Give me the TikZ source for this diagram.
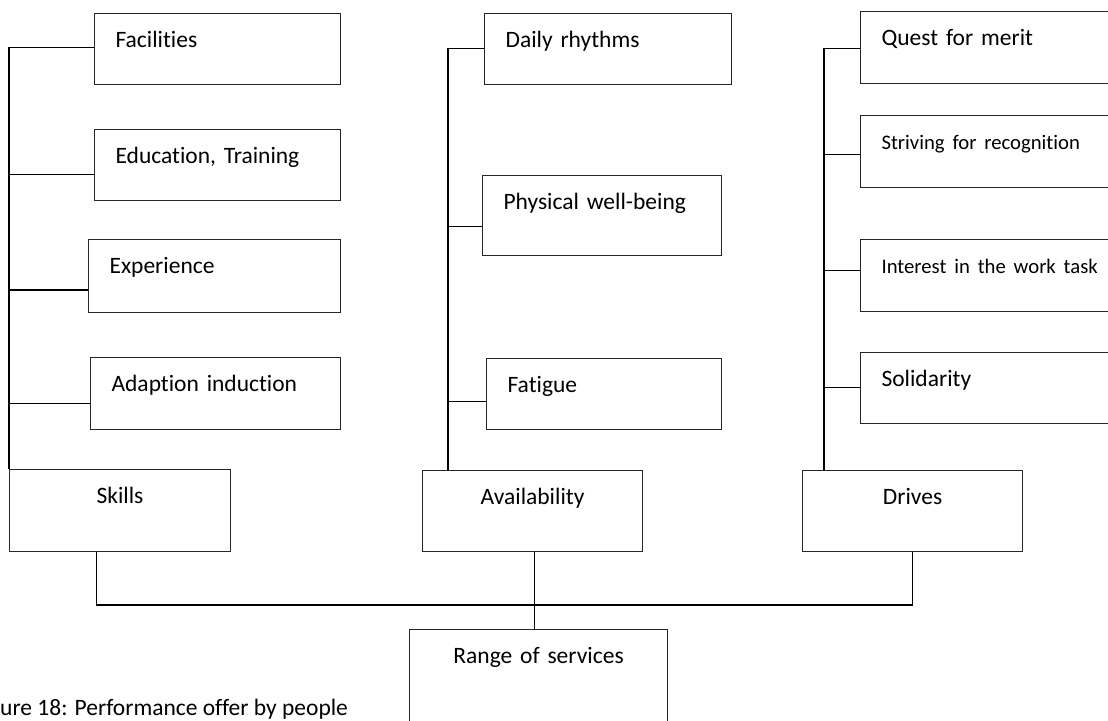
\documentclass[tikz,border=0pt]{standalone}
\usepackage{fontspec}
\setmainfont{Carlito}[Ligatures=NoCommon]
\usepackage{tikz}
\newcommand\smalltxt{\fontsize{20.7}{25}\selectfont}
\tikzset{
  item/.style={draw=black!85, line width=1.1pt, anchor=north west, inner xsep=21pt, inner ysep=0pt,
    text height=34pt, align=left, font=\fontsize{23.5}{28}\selectfont},
  head/.style={item, align=center},
  link/.style={line width=1.8pt}
}
\begin{document}
\begin{tikzpicture}[x=1pt,y=-1pt]
                \clip (0,0) rectangle (1108,720);
                \foreach \n/\x/\y/\w/\h/\t in {fac/94/13/204/37/Facilities, edu/94/129/204/37/{Education, Training},
                    exp/88/239/210/39/Experience, adap/90/357/208/38/Adaption induction,
                    daily/484/13/205/37/Daily rhythms, phys/482/175/197/46/Physical well-being, fat/486/358/193/37/Fatigue,
                    quest/860/11/240/38/Quest for merit, striv/860/115/240/38/{\smalltxt Striving for recognition},
                    inter/860/239/240/38/{\smalltxt Interest in the work task}, solid/860/352/240/37/Solidarity}
                {
                \node[item, text width=\w pt, text depth=\h pt] (\n) at (\x,\y) {\t};
                }
                \foreach \n/\x/\y/\w/\h/\t in {skills/9/469/179/48/Skills, avail/422/470/178/47/Availability,
                    drives/802/470/178/47/Drives, range/409/629/216/66/Range of services}
                {
                \node[head, text width=\w pt, text depth=\h pt] (\n) at (\x,\y) {\t};
                }
                \node[anchor=base west, inner sep=0pt, font=\fontsize{23.5}{28}\selectfont] (cap) at (0,715) {ure 18: Performance offer by people};
                \coordinate (lspine) at (skills.north west);
                \coordinate (mspine) at ([xshift=26pt]avail.north west);
                \coordinate (rspine) at ([xshift=22pt]drives.north west);
                \draw[link] ([yshift=1.5pt]fac.west) -| (lspine);
                \draw[link] ([yshift=0.5pt]daily.west) -| (mspine);
                \draw[link] ([yshift=-1pt]quest.west) -| (rspine);
                \foreach \n/\s/\c in {edu/-9.5/lspine, exp/-14/lspine, adap/-10/lspine,
                    phys/-11/mspine, fat/-7.5/mspine,
                    striv/-3/rspine, inter/5/rspine, solid/0.5/rspine}
                {
                \draw[link] ([yshift=\s pt]\n.west) -- ([yshift=\s pt]\n.west -| \c);
                }
                \draw[link] ([xshift=-23.5pt]skills.south) -- ++(0,53) -| (drives.south);
                \draw[link] ([xshift=2pt]avail.south) -- ([xshift=2pt]avail.south |- range.north);
            \end{tikzpicture}
\end{document}
